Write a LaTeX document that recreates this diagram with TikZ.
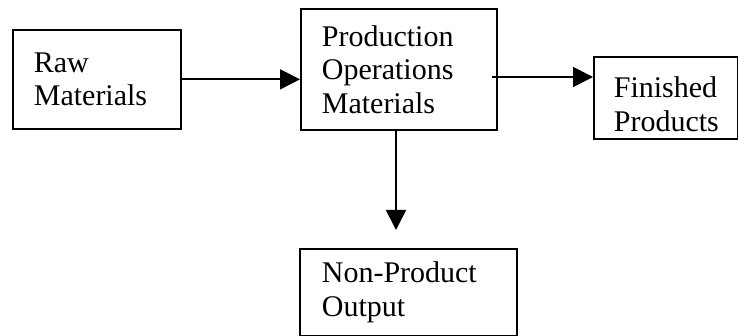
\documentclass[tikz,border=0pt]{standalone}
\usepackage{fontspec}
\setmainfont{Liberation Serif}
\usetikzlibrary{arrows.meta}
\begin{document}
\begin{tikzpicture}[x=1pt,y=-1pt]
\tikzset{box/.style={rectangle,draw=black,line width=1.7pt,anchor=north west,
    align=left,inner ysep=0pt,font=\fontsize{30}{33.5}\selectfont}}
\tikzset{arr/.style={line width=1.7pt,-{Triangle[length=20pt,width=20pt]}}}

\useasboundingbox (0,0) rectangle (738,336);

\node[box,text width=126pt,inner xsep=21pt,minimum height=99pt] (raw) at (12,29) {Raw\\Materials};
\node[box,text width=154pt,inner xsep=21pt,minimum height=121pt] (prod) at (300,8) {Production\\Operations\\Materials};
\node[box,text width=104pt,inner xsep=20pt,minimum height=82pt] (fin) at (593,56) {\rule{0pt}{34pt}Finished\\Products};
\node[box,text width=173pt,inner xsep=22pt,minimum height=87pt] (nonprod) at (299,248) {Non-Product\\Output};

\coordinate (out) at (492,77);
\coordinate (drop) at (396,230);

\draw[arr] (raw.east) -- (raw.east -| prod.west);
\draw[arr] (out) -- (out -| fin.west);
\draw[arr] (prod.south -| drop) -- (drop);

\end{tikzpicture}
\end{document}
